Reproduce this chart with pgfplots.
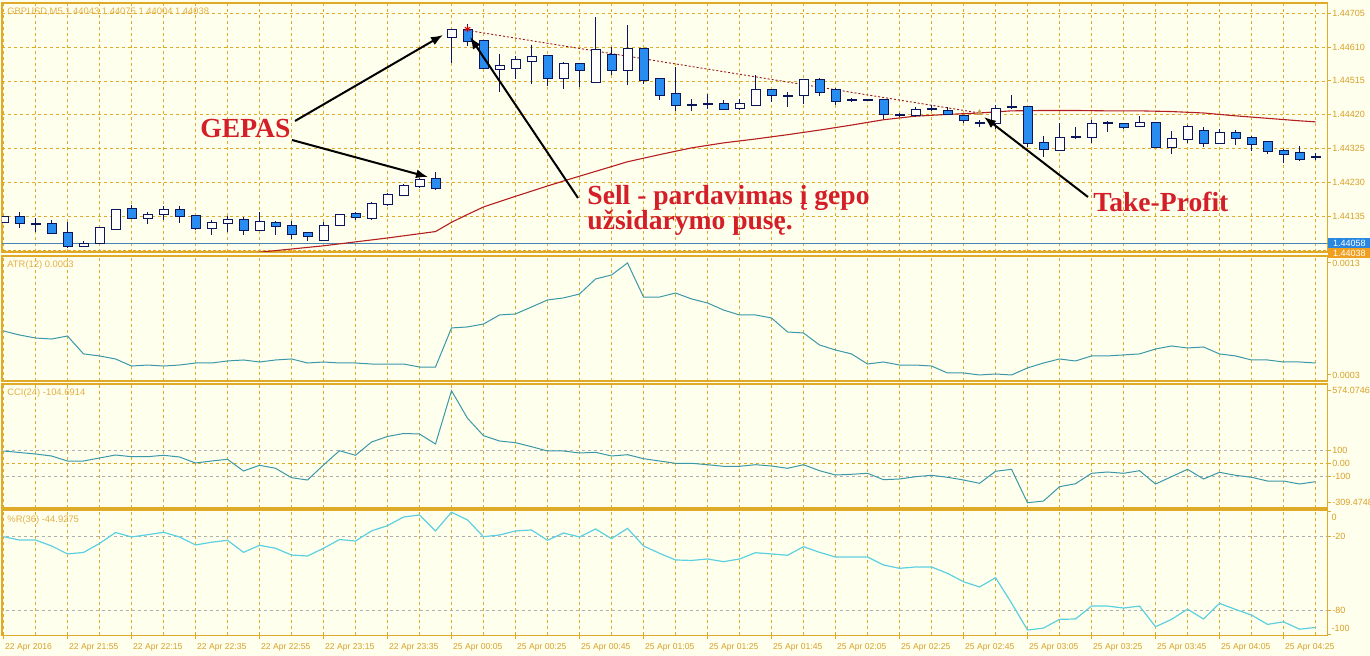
\documentclass[border=0pt]{standalone}
\usepackage{pgfplots}
\pgfplotsset{compat=1.18}
\usepackage{pgfplotstable}
\usepackage{fontspec}
\setmainfont{Liberation Sans}
\newfontfamily\annotfont{Liberation Serif}
\usetikzlibrary{arrows.meta}

\definecolor{bgc}{RGB}{255,255,238}
\definecolor{gold}{RGB}{222,170,40}
\definecolor{goldtxt}{RGB}{214,160,40}
\definecolor{hdrc}{RGB}{226,176,70}
\definecolor{navyc}{RGB}{12,22,90}
\definecolor{bearc}{RGB}{40,140,240}
\definecolor{mac}{RGB}{180,30,30}
\definecolor{atrc}{RGB}{58,152,168}
\definecolor{wprc}{RGB}{92,208,224}
\definecolor{lvl}{RGB}{175,175,175}
\definecolor{annred}{RGB}{212,30,40}
\definecolor{bidblue}{RGB}{40,135,225}
\definecolor{askor}{RGB}{240,160,30}
\definecolor{hl}{RGB}{70,130,180}

% GBPUSD M5 candles: bar index, open, high, low, close
\pgfplotstableread{
i O H L C
0 1.44119 1.44136 1.44119 1.44133
1 1.44133 1.44147 1.44102 1.44116
2 1.44113 1.44130 1.44091 1.44113
3 1.44113 1.44125 1.44085 1.44088
4 1.44088 1.44119 1.44046 1.44052
5 1.44052 1.44066 1.44049 1.44057
6 1.44060 1.44102 1.44060 1.44102
7 1.44099 1.44156 1.44099 1.44153
8 1.44156 1.44167 1.44130 1.44130
9 1.44130 1.44147 1.44113 1.44139
10 1.44142 1.44164 1.44125 1.44153
11 1.44153 1.44164 1.44116 1.44136
12 1.44136 1.44136 1.44097 1.44102
13 1.44102 1.44125 1.44083 1.44116
14 1.44116 1.44136 1.44091 1.44125
15 1.44125 1.44133 1.44083 1.44097
16 1.44097 1.44147 1.44097 1.44119
17 1.44116 1.44122 1.44083 1.44108
18 1.44108 1.44122 1.44071 1.44085
19 1.44088 1.44088 1.44066 1.44080
20 1.44068 1.44119 1.44068 1.44108
21 1.44111 1.44139 1.44108 1.44139
22 1.44142 1.44147 1.44125 1.44133
23 1.44130 1.44175 1.44125 1.44170
24 1.44170 1.44200 1.44164 1.44195
25 1.44195 1.44226 1.44195 1.44220
26 1.44220 1.44243 1.44214 1.44237
27 1.44240 1.44259 1.44209 1.44214
28 1.44639 1.44658 1.44565 1.44658
29 1.44658 1.44675 1.44613 1.44627
30 1.44627 1.44627 1.44551 1.44551
31 1.44549 1.44591 1.44484 1.44557
32 1.44551 1.44585 1.44521 1.44574
33 1.44571 1.44616 1.44507 1.44582
34 1.44585 1.44585 1.44501 1.44523
35 1.44523 1.44568 1.44493 1.44563
36 1.44563 1.44563 1.44498 1.44546
37 1.44512 1.44695 1.44509 1.44602
38 1.44588 1.44610 1.44532 1.44546
39 1.44546 1.44672 1.44504 1.44605
40 1.44605 1.44605 1.44507 1.44518
41 1.44521 1.44523 1.44462 1.44476
42 1.44478 1.44554 1.44431 1.44448
43 1.44448 1.44464 1.44431 1.44448
44 1.44450 1.44478 1.44436 1.44450
45 1.44450 1.44462 1.44434 1.44436
46 1.44439 1.44464 1.44434 1.44450
47 1.44448 1.44532 1.44448 1.44490
48 1.44490 1.44490 1.44456 1.44476
49 1.44473 1.44484 1.44442 1.44473
50 1.44476 1.44518 1.44450 1.44518
51 1.44518 1.44523 1.44473 1.44484
52 1.44490 1.44495 1.44448 1.44459
53 1.44462 1.44467 1.44456 1.44462
54 1.44462 1.44464 1.44459 1.44462
55 1.44462 1.44462 1.44408 1.44422
56 1.44419 1.44425 1.44414 1.44419
57 1.44419 1.44442 1.44414 1.44434
58 1.44436 1.44448 1.44431 1.44436
59 1.44431 1.44442 1.44419 1.44422
60 1.44417 1.44419 1.44397 1.44405
61 1.44397 1.44405 1.44386 1.44397
62 1.44397 1.44448 1.44380 1.44436
63 1.44442 1.44476 1.44436 1.44442
64 1.44442 1.44442 1.44330 1.44341
65 1.44341 1.44360 1.44302 1.44324
66 1.44321 1.44397 1.44321 1.44355
67 1.44358 1.44386 1.44352 1.44358
68 1.44358 1.44405 1.44341 1.44394
69 1.44397 1.44403 1.44372 1.44397
70 1.44394 1.44397 1.44380 1.44386
71 1.44389 1.44417 1.44386 1.44397
72 1.44397 1.44400 1.44330 1.44330
73 1.44330 1.44375 1.44310 1.44352
74 1.44352 1.44391 1.44341 1.44386
75 1.44375 1.44386 1.44330 1.44341
76 1.44341 1.44380 1.44341 1.44369
77 1.44369 1.44377 1.44335 1.44355
78 1.44355 1.44360 1.44318 1.44338
79 1.44344 1.44346 1.44310 1.44318
80 1.44318 1.44324 1.44285 1.44310
81 1.44313 1.44332 1.44290 1.44296
82 1.44302 1.44313 1.44293 1.44302
}\candles

% moving average
\pgfplotstableread{
i ma
15 1.44029
16 1.44034
18 1.44043
20 1.44052
22 1.44063
24 1.44074
26 1.44086
27 1.44092
28 1.44118
29 1.44140
30 1.44161
32 1.44191
34 1.44220
35 1.44234
37 1.44261
39 1.44288
41 1.44308
43 1.44327
45 1.44341
47 1.44352
49 1.44364
51 1.44377
53 1.44391
55 1.44406
57 1.44416
59 1.44421
61 1.44425
63 1.44431
65 1.44432
67 1.44432
69 1.44431
71 1.44431
73 1.44429
75 1.44425
77 1.44417
79 1.44410
81 1.44403
82 1.44400
}\mavg

% ATR(12)
\pgfplotstableread{
i v
0 0.000693
1 0.000657
2 0.000630
3 0.000621
4 0.000648
5 0.000488
6 0.000470
7 0.000443
8 0.000380
9 0.000389
10 0.000380
11 0.000389
12 0.000407
13 0.000407
14 0.000425
15 0.000434
16 0.000416
17 0.000434
18 0.000443
19 0.000407
20 0.000416
21 0.000407
22 0.000407
23 0.000398
24 0.000398
25 0.000398
26 0.000371
27 0.000371
28 0.000720
29 0.000729
30 0.000755
31 0.000836
32 0.000845
33 0.000907
34 0.000970
35 0.000988
36 0.001023
37 0.001157
38 0.001193
39 0.001300
40 0.000996
41 0.000996
42 0.001032
43 0.000979
44 0.000943
45 0.000880
46 0.000836
47 0.000836
48 0.000809
49 0.000684
50 0.000675
51 0.000568
52 0.000523
53 0.000488
54 0.000398
55 0.000416
56 0.000389
57 0.000389
58 0.000380
59 0.000318
60 0.000318
61 0.000300
62 0.000309
63 0.000300
64 0.000363
65 0.000407
66 0.000443
67 0.000425
68 0.000470
69 0.000470
70 0.000479
71 0.000488
72 0.000532
73 0.000559
74 0.000541
75 0.000550
76 0.000488
77 0.000470
78 0.000434
79 0.000434
80 0.000416
81 0.000416
82 0.000407
}\atr

% CCI(24)
\pgfplotstableread{
i v
0 98.6
1 86.7
2 74.9
3 59.1
4 19.7
5 19.7
6 43.4
7 67.0
8 53.6
9 53.6
10 64.7
11 51.3
12 3.9
13 19.7
14 33.1
15 -59.1
16 -14.2
17 -37.9
18 -112.0
19 -130.1
20 -11.8
21 100.9
22 64.7
23 169.5
24 212.9
25 236.6
26 232.6
27 153.8
28 574.07
29 356.4
30 219.2
31 177.4
32 164.0
33 132.5
34 98.6
35 98.6
36 82.8
37 88.3
38 59.1
39 69.4
40 37.9
41 19.7
42 1.6
43 1.6
44 -9.5
45 -22.1
46 -22.1
47 -9.5
48 -19.7
49 -37.9
50 -9.5
51 -56.8
52 -90.7
53 -85.2
54 -77.3
55 -127.8
56 -122.2
57 -104.1
58 -93.1
59 -108.8
60 -130.1
61 -156.1
62 -61.5
63 -45.7
64 -309.47
65 -295.7
66 -183.0
67 -159.3
68 -77.3
69 -67.0
70 -77.3
71 -56.8
72 -161.7
73 -104.1
74 -45.7
75 -122.2
76 -69.4
77 -93.1
78 -108.8
79 -138.0
80 -138.0
81 -161.7
82 -143.5
}\cci

% Williams %R(36)
\pgfplotstableread{
i v
0 -20.1
1 -22.8
2 -22.8
3 -27.6
4 -34.1
5 -32.9
6 -25.6
7 -16.7
8 -20.3
9 -18.5
10 -16.5
11 -20.3
12 -26.8
13 -24.6
14 -23.0
15 -32.8
16 -27.1
17 -29.5
18 -35.0
19 -35.8
20 -29.5
21 -22.4
22 -23.6
23 -15.4
24 -11.1
25 -4.1
26 -2.4
27 -15.4
28 -0.2
29 -6.5
30 -20.1
31 -18.7
32 -15.4
33 -14.6
34 -23.0
35 -17.1
36 -20.3
37 -13.8
38 -21.7
39 -13.3
40 -27.6
41 -33.6
42 -39.0
43 -39.4
44 -38.2
45 -40.4
46 -38.2
47 -33.1
48 -34.1
49 -35.2
50 -28.2
51 -32.8
52 -36.6
53 -36.6
54 -36.6
55 -43.1
56 -45.8
57 -44.7
58 -44.7
59 -49.9
60 -56.7
61 -61.0
62 -53.4
63 -74.0
64 -96.0
65 -94.4
66 -87.3
67 -87.0
68 -76.5
69 -76.5
70 -78.1
71 -76.5
72 -93.3
73 -87.3
74 -79.0
75 -87.0
76 -74.3
77 -79.2
78 -83.8
79 -91.4
80 -89.3
81 -95.3
82 -93.9
}\wpr

\pgfplotsset{
  mt/.style={
    scale only axis, anchor=north west, width=662.75pt,
    xmin=-0.094, xmax=82.75,
    scaled ticks=false,
    axis line style={gold, line width=0.6pt},
    xtick={0,4,...,80}, minor xtick={2,6,...,82},
    xmajorgrids, xminorgrids,
    major grid style={gold, line width=0.4pt, dash pattern=on 1.5pt off 1.5pt},
    minor grid style={gold, line width=0.4pt, dash pattern=on 1.5pt off 1.5pt},
    xtick pos=bottom, ytick pos=right, yticklabel pos=right,
    tick align=outside, major tick length=1.6pt, minor tick length=0pt,
    tick style={gold, line width=0.5pt},
    yticklabel style={font=\fontsize{4.5}{5}\selectfont, text=goldtxt, inner sep=0.6pt},
    clip=true,
  },
  upper/.style={xticklabel=\empty, xtick style={draw=none}},
  lvlline/.style={lvl, line width=0.4pt, dash pattern=on 1.5pt off 1.5pt, forget plot},
  candlebar/.style={draw=none, mark=none, forget plot,
    error bars/y dir=plus, error bars/y explicit, error bars/error mark=none,
    error bars/error bar style={draw=#1}},
}

\begin{document}
\begin{tikzpicture}
\fill[bgc] (0,0) rectangle (685pt,328pt);
\path[use as bounding box] (0,0) rectangle (685pt,328pt);

% price panel
\begin{axis}[mt, upper, at={(1pt,326.5pt)}, height=124.5pt,
  ymin=1.440347, ymax=1.447339,
  ytick={1.44135,1.44230,1.44325,1.44420,1.44515,1.44610,1.44705},
  yticklabels={1.44135,1.44230,1.44325,1.44420,1.44515,1.44610,1.44705},
  ymajorgrids]
  \addplot[hl, line width=0.5pt] coordinates {(-1,1.44058) (84,1.44058)};
  \addplot[askor, line width=0.5pt, dash pattern=on 1.5pt off 1pt] coordinates {(-1,1.44038) (84,1.44038)};
  \addplot[mac, line width=0.55pt] table[x=i, y=ma] {\mavg};
  \addplot[mac!85!black, line width=0.45pt, dash pattern=on 1pt off 1pt] coordinates {(29,1.44657) (61,1.44425)};
  % wicks
  \addplot[candlebar=navyc, error bars/error bar style={line width=0.5pt}]
    table[x=i, y=L, y error expr={\thisrow{H}-\thisrow{L}}] {\candles};
  % body outlines
  \addplot[candlebar=navyc, error bars/error bar style={line width=5pt}]
    table[x=i, y expr={min(\thisrow{O},\thisrow{C})-0.000028},
      y error expr={abs(\thisrow{C}-\thisrow{O})+0.000056}] {\candles};
  % bull bodies
  \addplot[candlebar=white, error bars/error bar style={line width=4pt}]
    table[x=i, y expr={\thisrow{C}>\thisrow{O} ? \thisrow{O} : nan},
      y error expr={\thisrow{C}-\thisrow{O}}] {\candles};
  % bear bodies
  \addplot[candlebar=bearc, error bars/error bar style={line width=4pt}]
    table[x=i, y expr={\thisrow{O}>\thisrow{C} ? \thisrow{C} : nan},
      y error expr={\thisrow{O}-\thisrow{C}}] {\candles};
  \addplot[only marks, mark=asterisk, mark size=1.6pt, red!85!black, line width=0.5pt] coordinates {(29,1.44661)};
  \addplot[only marks, mark=triangle*, mark size=1.5pt, color={rgb,255:red,205;green,150;blue,90}] coordinates {(61,1.44425)};
\end{axis}

% ATR panel
\begin{axis}[mt, upper, at={(1pt,200pt)}, height=62.5pt,
  ymin=0.0002464, ymax=0.0013625,
  ytick={0.0003,0.0013}, yticklabels={0.0003,0.0013}]
  \addplot[atrc, line width=0.5pt] table[x=i, y=v] {\atr};
\end{axis}

% CCI panel
\begin{axis}[mt, upper, at={(1pt,136pt)}, height=62pt,
  ymin=-350.9, ymax=626.9,
  ytick={-309.4748,-100,0,100,574.0746},
  yticklabels={-309.4748,-100,0.00,100,574.0746}]
  \addplot[lvlline] coordinates {(-1,100) (84,100)};
  \addplot[lvlline] coordinates {(-1,-100) (84,-100)};
  \addplot[gold, line width=0.4pt, dash pattern=on 1.5pt off 1.5pt, forget plot] coordinates {(-1,0) (84,0)};
  \addplot[atrc, line width=0.5pt] table[x=i, y=v] {\cci};
\end{axis}

% Williams %R panel
\begin{axis}[mt, at={(1pt,73pt)}, height=62.75pt,
  ymin=-100.41, ymax=1.63,
  ytick={-100,-80,-20,0}, yticklabels={,-80,-20,},
  xtick style={draw=gold},
  xticklabels={22 Apr 2016,22 Apr 21:55,22 Apr 22:15,22 Apr 22:35,22 Apr 22:55,22 Apr 23:15,22 Apr 23:35,
    25 Apr 00:05,25 Apr 00:25,25 Apr 00:45,25 Apr 01:05,25 Apr 01:25,25 Apr 01:45,25 Apr 02:05,
    25 Apr 02:25,25 Apr 02:45,25 Apr 03:05,25 Apr 03:25,25 Apr 03:45,25 Apr 04:05,25 Apr 04:25},
  xticklabel style={font=\fontsize{4.3}{5}\selectfont, text=goldtxt, anchor=north west, inner sep=0pt, xshift=0.6pt, yshift=-2pt}]
  \addplot[lvlline] coordinates {(-1,-20) (84,-20)};
  \addplot[lvlline] coordinates {(-1,-80) (84,-80)};
  \addplot[wprc, line width=0.6pt] table[x=i, y=v] {\wpr};
\end{axis}

% annotations, in screen pixels
\begin{scope}[x=0.5pt, y=-0.5pt, shift={(0pt,328pt)}]
  \node[anchor=west, inner sep=0pt, text=hdrc, font=\fontsize{4.7}{5}\selectfont] at (7,12) {GBPUSD,M5 1.44043 1.44075 1.44004 1.44038};
  \node[anchor=west, inner sep=0pt, text=hdrc, font=\fontsize{4.7}{5}\selectfont] at (7,265) {ATR(12) 0.0003};
  \node[anchor=west, inner sep=0pt, text=hdrc, font=\fontsize{4.7}{5}\selectfont] at (7,393) {CCI(24) -104.6914};
  \node[anchor=west, inner sep=0pt, text=hdrc, font=\fontsize{4.7}{5}\selectfont] at (7,520) {\%R(36) -44.9275};
  \node[anchor=west, inner sep=0.6pt, text=goldtxt, font=\fontsize{4.5}{5}\selectfont] at (1330,517.5) {0};
  \node[anchor=west, inner sep=0.6pt, text=goldtxt, font=\fontsize{4.5}{5}\selectfont] at (1330,628.5) {-100};
  \node[anchor=west, fill=bidblue, text=white, inner sep=0.6pt, minimum width=21pt, minimum height=5pt, font=\fontsize{4.5}{5}\selectfont] at (1328,243.3) {1.44058};
  \node[anchor=west, fill=askor, text=white, inner sep=0.6pt, minimum width=21pt, minimum height=5pt, font=\fontsize{4.5}{5}\selectfont] at (1328,253.3) {1.44038};

  \begin{scope}[line width=1pt, -{Latex[length=6pt,width=4.5pt]}]
    \draw (295,121) -- (443,35);
    \draw (292,140) -- (428,177);
    \draw (578,198) -- (470,37);
    \draw (1088,197) -- (984,117);
  \end{scope}

  \begin{scope}[text=annred, font=\annotfont\bfseries\fontsize{13.8}{15}\selectfont, inner sep=0pt]
    \node[anchor=base west] at (200,138) {GEPAS};
    \node[anchor=base west] at (587,205) {Sell - pardavimas į gepo};
    \node[anchor=base west] at (587,230) {užsidarymo pusę.};
    \node[anchor=base west] at (1093,212) {Take-Profit};
  \end{scope}
\end{scope}
\end{tikzpicture}
\end{document}
